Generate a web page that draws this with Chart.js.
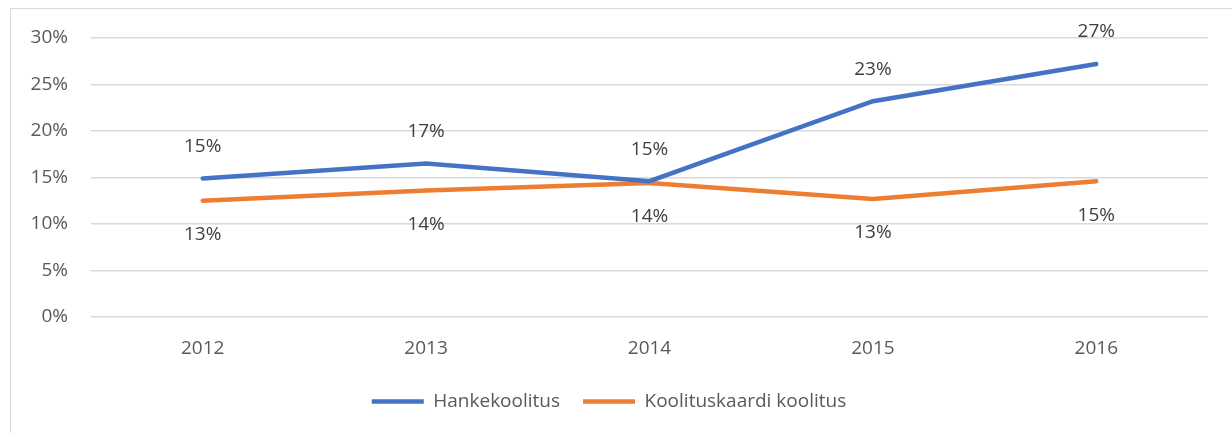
<!DOCTYPE html>
<html>
<head>
<meta charset="utf-8">
<script src="https://cdn.jsdelivr.net/npm/chart.js@4.4.0/dist/chart.umd.min.js"></script>
<style>
  body { margin: 0; background: #fff; overflow: hidden; }
  #wrap { position: relative; width: 1232px; height: 433px; }
  #frame { position: absolute; left: 10px; top: 8px; width: 1260px; height: 460px; border: 1px solid #d9d9d9; }
  #chart { position: absolute; left: 0; top: 0; }
</style>
</head>
<body>
<div id="wrap">
  <div id="frame"></div>
  <canvas id="chart" width="1232" height="433"></canvas>
</div>
<script>
// years on the x axis
const years = ['2012', '2013', '2014', '2015', '2016'];
// shares in percent
const hankekoolitus = [14.9, 16.5, 14.6, 23.2, 27.2];
const koolituskaardi = [12.5, 13.6, 14.4, 12.7, 14.6];
const yTicks = [0, 5, 10, 15, 20, 25, 30];

const fontFamily = "'Open Sans', 'Liberation Sans', sans-serif";

// draws the value labels, blue ones above and orange ones below the line
const valueLabels = {
    id: 'valueLabels',
    afterDatasetsDraw(chart) {
        const ctx = chart.ctx;
        ctx.save();
        ctx.font = '19px ' + fontFamily;
        ctx.fillStyle = '#404040';
        ctx.textAlign = 'center';
        ctx.textBaseline = 'middle';
        chart.data.datasets.forEach((ds, i) => {
            const meta = chart.getDatasetMeta(i);
            meta.data.forEach((pt, j) => {
                const dy = ds.labelAbove ? -32 : 34;
                ctx.fillText(Math.round(ds.data[j]) + '%', pt.x, pt.y + dy);
            });
        });
        ctx.restore();
    }
};

const ctx = document.getElementById('chart').getContext('2d');
const chart = new Chart(ctx, {
    type: 'line',
    data: {
        labels: years,
        datasets: [{
            label: 'Hankekoolitus',
            data: hankekoolitus,
            borderColor: '#4472c4',
            backgroundColor: '#4472c4',
            borderWidth: 4.5,
            borderCapStyle: 'round',
            pointRadius: 0,
            tension: 0,
            labelAbove: true
        }, {
            label: 'Koolituskaardi koolitus',
            data: koolituskaardi,
            borderColor: '#ed7d31',
            backgroundColor: '#ed7d31',
            borderWidth: 4.5,
            borderCapStyle: 'round',
            pointRadius: 0,
            tension: 0,
            labelAbove: false
        }]
    },
    options: {
        responsive: false,
        animation: false,
        layout: { padding: { left: 10, right: 24, top: 38, bottom: 12 } },
        plugins: {
            tooltip: { enabled: false },
            legend: {
                position: 'bottom',
                labels: {
                    color: '#595959',
                    font: { family: fontFamily, size: 19 },
                    usePointStyle: true,
                    pointStyle: 'line',
                    pointStyleWidth: 52,
                    boxHeight: 4,
                    padding: 23
                }
            }
        },
        scales: {
            x: {
                offset: true,
                grid: { display: false, drawTicks: false, offset: true },
                border: { display: false },
                ticks: { color: '#595959', font: { family: fontFamily, size: 19 }, padding: 20 },
                afterFit(scale) { scale.height = 52; }
            },
            y: {
                min: 0,
                max: 30,
                afterBuildTicks(scale) { scale.ticks = yTicks.map(v => ({ value: v })); },
                grid: { color: '#d9d9d9', lineWidth: 1.5, drawTicks: false },
                border: { display: false },
                ticks: {
                    color: '#595959',
                    font: { family: fontFamily, size: 19 },
                    padding: 23,
                    callback: v => v + '%'
                },
                afterFit(scale) { scale.width = 81; }
            }
        }
    },
    plugins: [valueLabels]
});
</script>
</body>
</html>
